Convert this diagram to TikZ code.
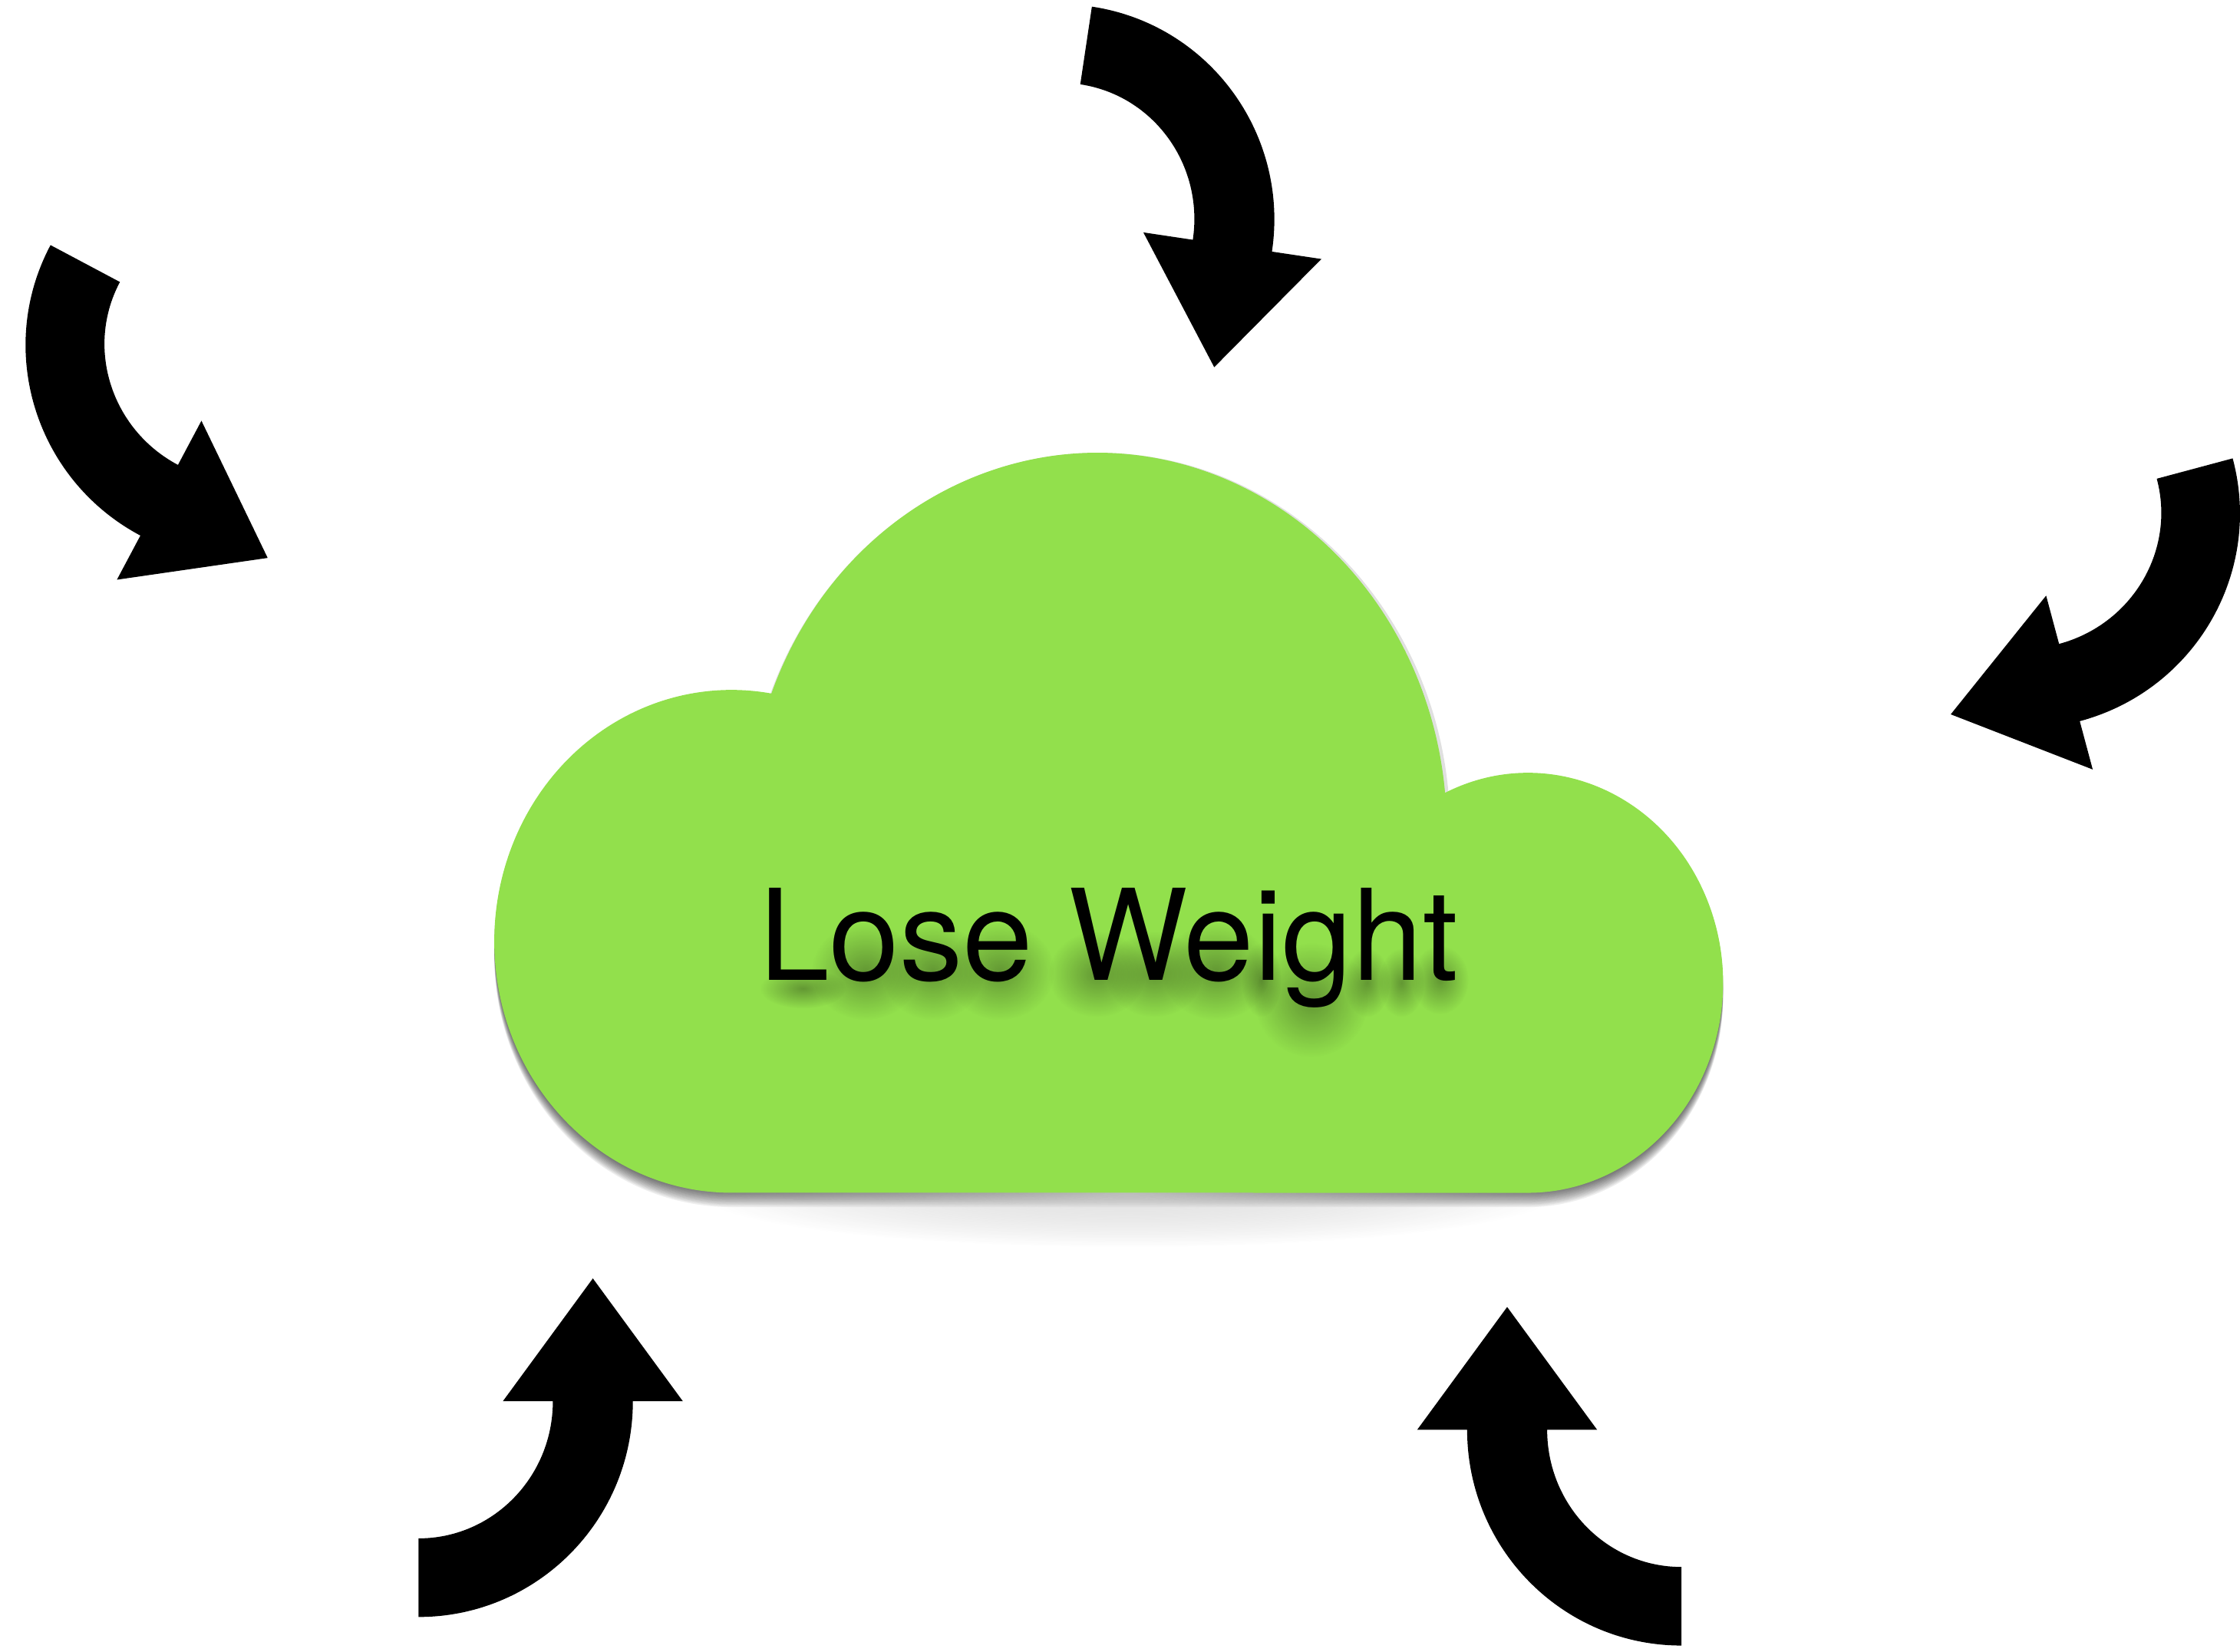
\documentclass[tikz,border=0pt]{standalone}
\usepackage{fontspec}
\setmainfont{TeX Gyre Heros}
\usepackage{xcolor}
\usetikzlibrary{fadings}

\definecolor{cloudgreen}{RGB}{146,224,76}
\tikzfading[name=softblob, inner color=transparent!0, outer color=transparent!100]
\newcommand{\cloudpath}{(512,321) arc[start angle=270, end angle=80.3, x radius=166, y radius=176]
    arc[start angle=158.94, end angle=5.45, x radius=244.5, y radius=263]
    arc[start angle=115.2, end angle=-90, x radius=136.5, y radius=147] -- cycle}

\begin{document}
\begin{tikzpicture}[
    x=1pt, y=1pt,
    weightlabel/.style={inner sep=0pt, anchor=base west, font=\fontsize{88.5}{88.5}\selectfont},
    curvearrow/.pic={
        \fill (0,-96) arc[start angle=-90, end angle=0, x radius=94, y radius=96] -- (59,0) -- (122,86) -- (185,0)
            -- (150,0) arc[start angle=0, end angle=-90, x radius=150, y radius=151] -- cycle;
    }
]
\useasboundingbox (0,0) rectangle (1568,1156);

% --- Cloud shadow ---
\fill[black, opacity=.25, path fading=softblob] (790,321) ellipse [x radius=300, y radius=38];
\foreach \d in {1,...,10} {
    \fill[black, opacity=.07, yshift=-\d pt] \cloudpath;
}
\fill[white, opacity=.6, path fading=softblob] (790,321) ellipse [x radius=340, y radius=44];
\fill[black, opacity=.12] (1015,576) arc[start angle=0, end angle=180, x radius=246, y radius=263] -- cycle;

% --- Cloud ---
\fill[cloudgreen] \cloudpath;

% --- Soft shadow under the letters ---
\foreach \x/\y/\r/\h in {562/464/30/14, 606/476/38/34, 653/476/36/34, 700/476/38/34,
    768/474/34/30, 808/474/34/30, 851/476/38/34, 883/470/14/26, 918/456/40/40,
    957/468/16/24, 981/468/16/24, 1008/470/20/24} {
    \fill[black, opacity=.32, path fading=softblob] (\x,\y) ellipse [x radius=\r, y radius=\h];
}

% --- Label ---
\node[weightlabel] (label) at (531.1,470) {Lose Weight};

% --- Arrows around the cloud ---
\pic (leftarrow) [rotate=-118] at (168.7,913.5) {curvearrow};
\pic (toparrow) [rotate=171.5, xscale=-1] at (742,1002) {curvearrow};
\pic (rightarrow) [rotate=105, xscale=-1] at (1417,796) {curvearrow};
\pic (lowleftarrow) at (293,175) {curvearrow};
\pic (lowrightarrow) [xscale=-1] at (1177,155) {curvearrow};

\end{tikzpicture}
\end{document}
